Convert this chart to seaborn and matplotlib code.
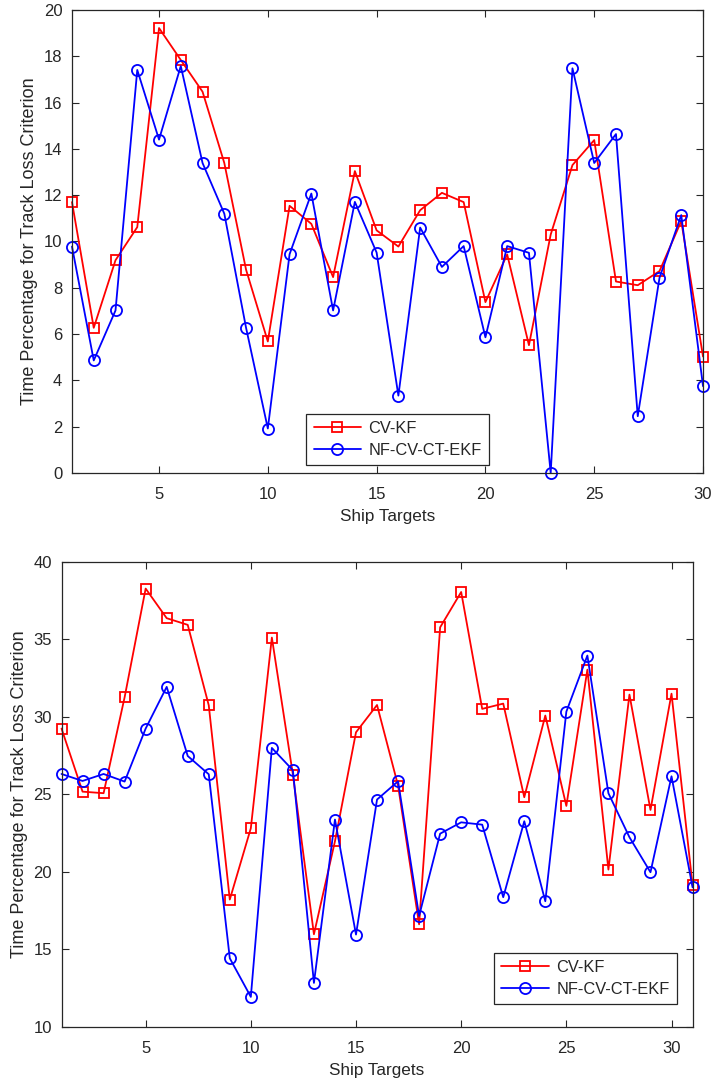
import matplotlib
matplotlib.use("Agg")
import matplotlib.pyplot as plt
import seaborn as sns
import pandas as pd

# Track-loss time percentage per ship target, two scenarios
targets_a = list(range(1, 31))
cv_kf_a = [11.7, 6.27, 9.19, 10.62, 19.22, 17.84, 16.47, 13.39, 8.78, 5.68,
           11.54, 10.76, 8.46, 13.04, 10.48, 9.78, 11.35, 12.1, 11.7, 7.38,
           9.44, 5.52, 10.3, 13.3, 14.38, 8.27, 8.11, 8.72, 10.88, 5.03]
nf_ekf_a = [9.78, 4.86, 7.02, 17.41, 14.4, 17.58, 13.39, 11.2, 6.27, 1.92,
            9.45, 12.07, 7.02, 11.71, 9.52, 3.34, 10.6, 8.9, 9.8, 5.86,
            9.8, 9.51, 0.0, 17.48, 13.39, 14.64, 2.45, 8.43, 11.14, 3.75]

targets_b = list(range(1, 32))
cv_kf_b = [29.25, 25.18, 25.08, 31.27, 38.28, 36.37, 35.94, 30.75, 18.22, 22.82,
           35.12, 26.28, 15.98, 21.98, 29.01, 30.77, 25.57, 16.62, 35.78, 38.06,
           30.52, 30.86, 24.82, 30.09, 24.26, 33.05, 20.15, 31.44, 24.0, 31.5, 19.16]
nf_ekf_b = [26.32, 25.87, 26.32, 25.83, 29.25, 31.94, 27.48, 26.3, 14.43, 11.94,
            28.0, 26.56, 12.84, 23.38, 15.96, 24.67, 25.85, 17.16, 22.47, 23.2,
            23.05, 18.37, 23.27, 18.11, 30.34, 33.96, 25.08, 22.24, 19.98, 26.17, 19.01]

labels = ["CV-KF", "NF-CV-CT-EKF"]
colors = ["#ff0000", "#0000ff"]
markers = ["s", "o"]
msizes = [7, 8]

sns.set_theme(style="white")
plt.rcParams["font.family"] = ["Liberation Sans", "DejaVu Sans"]
plt.rcParams["font.size"] = 12

fig = plt.figure(figsize=(7.17, 10.85), dpi=100)
ax_top = fig.add_axes([0.1004, 0.5641, 0.8801, 0.4267])
ax_bot = fig.add_axes([0.0858, 0.0535, 0.8801, 0.4286])


def draw(ax, x, series, xlim, ylim, yticks, legend_anchor, ylabelpad):
    for vals, lab, col, mk, ms in zip(series, labels, colors, markers, msizes):
        df = pd.DataFrame({"target": x, "value": vals})
        sns.lineplot(data=df, x="target", y="value", ax=ax, color=col,
                     marker=mk, markersize=ms, markerfacecolor="none",
                     markeredgecolor=col, markeredgewidth=1.3,
                     linewidth=1.3, label=lab)
    ax.set_xlim(*xlim)
    ax.set_ylim(*ylim)
    ax.set_xticks([5, 10, 15, 20, 25, 30])
    ax.set_yticks(yticks)
    ax.set_xlabel("Ship Targets", fontsize=12.3, color="#262626", labelpad=5)
    ax.set_ylabel("Time Percentage for Track Loss Criterion", fontsize=13,
                  color="#262626", labelpad=ylabelpad)
    ax.tick_params(direction="in", length=5, width=0.8, top=True, right=True,
                   bottom=True, left=True, labelsize=12, colors="#262626")
    ax.tick_params(axis="x", pad=10)
    ax.tick_params(axis="y", pad=7)
    for sp in ax.spines.values():
        sp.set_color("#262626")
        sp.set_linewidth(0.9)
        sp.set_visible(True)
    leg = ax.legend(loc="lower right", bbox_to_anchor=legend_anchor,
                    borderaxespad=0, fancybox=False, framealpha=1,
                    edgecolor="#262626", fontsize=11.8, handlelength=2.9,
                    borderpad=0.45, labelspacing=0.4, handletextpad=0.45)
    leg.get_frame().set_linewidth(0.9)


draw(ax_top, targets_a, [cv_kf_a, nf_ekf_a], (1, 30), (0, 20),
     list(range(0, 21, 2)), (0.661, 0.017), 4)
draw(ax_bot, targets_b, [cv_kf_b, nf_ekf_b], (1, 31), (10, 40),
     list(range(10, 41, 5)), (0.975, 0.049), 4)

for ax in (ax_top, ax_bot):
    for ln in ax.lines:
        ln.set_clip_on(False)

fig.savefig("out.png", dpi=100)
